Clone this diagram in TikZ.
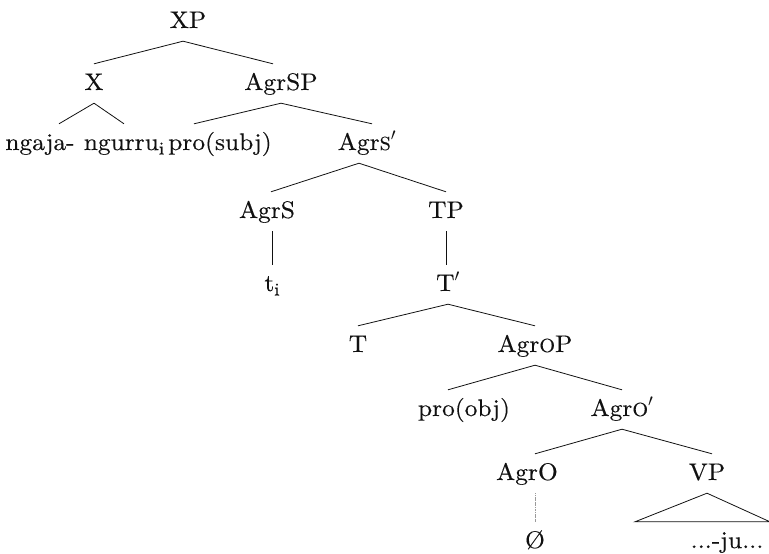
\documentclass[tikz,border=0pt]{standalone}
\usepackage{fontspec}
\setmainfont{lmroman10-regular.otf}[FakeStretch=1.06,FakeBold=0.3]
\usepackage{tikz}
\usetikzlibrary{positioning,calc}
\definecolor{ink}{HTML}{111111}
\definecolor{faint}{HTML}{9A9A9A}
\newcommand{\smc}[1]{{\fontsize{19}{21}\selectfont #1}}
\newcommand{\lowi}[1]{\raisebox{-4.5pt}{\fontsize{18}{20}\selectfont #1}}
\tikzset{
  cat/.style={anchor=base, inner xsep=2pt, inner ysep=8pt, text height=18pt,
              text depth=5pt, text=ink, font=\fontsize{24}{28}\selectfont},
  br/.style={draw=ink, line width=0.8pt},
  trace/.style={draw=faint, line width=0.6pt, dash pattern=on 1.2pt off 0.5pt},
}
\begin{document}
\begin{tikzpicture}[x=1pt,y=-1pt]
  \useasboundingbox (0,0) rectangle (769,554);
  \node[cat] (xp) at (188,28) {XP};
  \node[cat] (x) at (94,90) {X};
  \node[cat] (agrsp) at (281,90) {AgrSP};
  \node[cat] (ngaja) at (40,150) {ngaja-};
  \node[cat] (ngurru) at (124,150) {ngurru\lowi{i}};
  \node[cat] (prosubj) at (220,150) {pro(subj)};
  \node[cat] (agrsbar) at (367,150) {Agr\smc{S}$'$};
  \node[cat] (agrs) at (267,218) {AgrS};
  \node[cat] (tp) at (446,218) {TP};
  \node[cat] (ti) at (272,291) {t\lowi{i}};
  \node[cat] (tbar) at (448,291) {T$'$};
  \node[cat] (t) at (358,352) {T};
  \node[cat] (agrop) at (535,352) {Agr\smc{O}P};
  \node[cat] (proobj) at (464,416) {pro(obj)};
  \node[cat] (agrobar) at (622,416) {Agr\smc{O}$'$};
  \node[cat] (agro) at (527,480) {AgrO};
  \node[cat] (vp) at (707,480) {VP};
  \node[cat] (null) at (535,548) {Ø};
  \node[cat] (ju) at (727,548) {...-ju...};

  \draw[br] ([xshift=-5pt]xp.south) -- (x.north);
  \draw[br] ([xshift=-5pt]xp.south) -- ([xshift=-8pt]agrsp.north);
  \draw[br] (x.south) -- ([xshift=19pt]ngaja.north);
  \draw[br] (x.south) -- (ngurru.north);
  \draw[br] (agrsp.south) -- ([xshift=-26pt]prosubj.north);
  \draw[br] (agrsp.south) -- ([xshift=5pt]agrsbar.north);
  \draw[br] ([xshift=-8pt]agrsbar.south) -- ([xshift=4pt]agrs.north);
  \draw[br] ([xshift=-8pt]agrsbar.south) -- (tp.north);
  \draw[br] (ti.north |- agrs.south) -- (ti.north);
  \draw[br] (tp.south) -- (tp.south |- tbar.north);
  \draw[br] (tbar.south) -- (t.north);
  \draw[br] (tbar.south) -- (agrop.north);
  \draw[br] (agrop.south) -- ([xshift=-16pt]proobj.north);
  \draw[br] (agrop.south) -- (agrobar.north);
  \draw[br] (agrobar.south) -- ([xshift=8pt]agro.north);
  \draw[br] (agrobar.south) -- ([xshift=5pt]vp.north);
  \draw[trace] (null.north |- agro.south) -- (null.north);
  \draw[br] (vp.south) -- ([xshift=-92pt]ju.north) -- ([xshift=43pt]ju.north) -- cycle;
\end{tikzpicture}
\end{document}
